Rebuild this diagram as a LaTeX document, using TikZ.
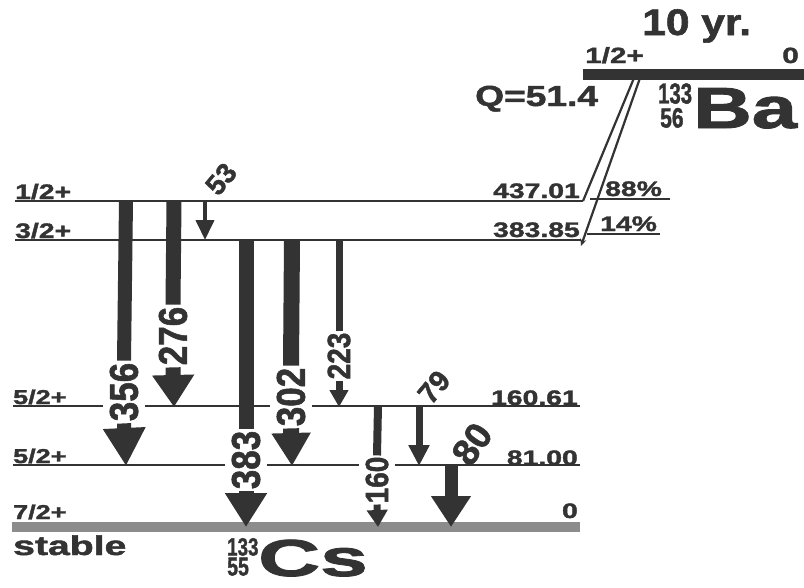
\documentclass[tikz,border=0pt]{standalone}
\usepackage{fontspec}
\setmainfont{Liberation Sans}
\newfontfamily\hv{Liberation Sans Bold}[FakeBold=1.5]
\usetikzlibrary{arrows.meta}
\definecolor{ink}{HTML}{333333}
\definecolor{band}{HTML}{8C8C8C}
\newcommand{\fs}[1]{\fontsize{#1}{#1}\selectfont\hv}
\newcommand{\hs}[3][1.35]{\scalebox{#1}[1]{\fs{#2}#3}}
\newcommand{\vs}[3][1.15]{\scalebox{1}[#1]{\fs{#2}#3}}
\tikzset{
  txt/.style={inner sep=0pt, text=ink},
  lvl/.style={draw=ink, line width=2.4pt},
  thinlvl/.style={draw=ink, line width=2pt},
  glab/.style={text=ink, fill=white, inner xsep=2pt, inner ysep=7pt, rotate=90},
  dlab/.style={text=ink, inner sep=0pt},
  shaft/.style={draw=ink, line width=#1},
  head/.style n args={3}{draw=ink, line width=#1, -{Triangle[width=#2, length=#3]}},
  feed/.style={draw=ink, line width=2.2pt},
}
\begin{document}
\begin{tikzpicture}[x=1pt,y=-1pt]
\useasboundingbox (0,0) rectangle (804,587);
% ---------- Ba parent ----------
\node[txt, anchor=base west] (halflife) at (642,35) {\hs[1.15]{37}{10 yr.}};
\node[txt, anchor=base west] (baspin) at (585,63) {\hs{22}{1/2+}};
\node[txt, anchor=base east] (baen) at (799,63) {\hs{22}{0}};
\coordinate (bal) at (583,74);
\coordinate (bar) at (804,74);
\draw[draw=ink, line width=11pt] (bal) -- (bar);
\node[txt, anchor=base west] (qval) at (475,106) {\hs[1.28]{29}{Q=51.4}};
\node[txt, anchor=south west] (baA) at (658,104) {\hs[0.7]{29}{133}};
\node[txt, anchor=south west] (baZ) at (660,128) {\hs[0.75]{28}{56}};
\node[txt, anchor=base west] (basym) at (693,128) {\hs[1.4]{58}{Ba}};
% feeding lines
\coordinate (ba1) at (634,78);
\coordinate (ba2) at (640,78);
\coordinate (e437) at (583,201);
\coordinate (e383) at (581,246);
\draw[feed] (ba1) -- (e437);
\draw[feed, -{Stealth[length=7pt, width=6pt]}] (ba2) -- (e383);
\coordinate (u88a) at (590,199); \coordinate (u88b) at (670,199);
\coordinate (u14a) at (587,234); \coordinate (u14b) at (660,234);
\draw[thinlvl] (u88a) -- (u88b);
\draw[thinlvl] (u14a) -- (u14b);
\node[txt, anchor=base west] (p88) at (605,196) {\hs{21}{88\%}};
\node[txt, anchor=base west] (p14) at (600,231) {\hs{21}{14\%}};
% ---------- levels ----------
\coordinate (L1a) at (15,201); \coordinate (L1b) at (583,201);
\coordinate (L2a) at (15,240); \coordinate (L2b) at (581,240);
\draw[lvl] (L1a) -- (L1b);
\draw[lvl] (L2a) -- (L2b);
\coordinate (L3a) at (13,406); \coordinate (L3b) at (580,406);
\coordinate (L4a) at (13,465); \coordinate (L4b) at (580,465);
\draw[thinlvl] (L3a) -- (L3b);
\draw[thinlvl] (L4a) -- (L4b);
\coordinate (L5a) at (12,527); \coordinate (L5b) at (580,527);
\draw[draw=band, line width=10pt] (L5a) -- (L5b);
% spins
\node[txt, anchor=base west] (s1) at (15,199) {\hs{21}{1/2+}};
\node[txt, anchor=base west] (s2) at (15,238) {\hs{21}{3/2+}};
\node[txt, anchor=base west] (s3) at (13,404) {\hs{20}{5/2+}};
\node[txt, anchor=base west] (s4) at (13,463) {\hs{20}{5/2+}};
\node[txt, anchor=base west] (s5) at (13,519) {\hs{20}{7/2+}};
% energies
\node[txt, anchor=base east] (en1) at (580,198) {\hs{21}{437.01}};
\node[txt, anchor=base east] (en2) at (580,237) {\hs{21}{383.85}};
\node[txt, anchor=base east] (en3) at (578,405) {\hs{21}{160.61}};
\node[txt, anchor=base east] (en4) at (578,465) {\hs{21}{81.00}};
\node[txt, anchor=base east] (en5) at (578,518) {\hs{21}{0}};
% bottom labels
\node[txt, anchor=base west] (stable) at (13,555) {\hs[1.45]{27}{stable}};
\node[txt, anchor=south west] (csA) at (227,556) {\hs[0.75]{25}{133}};
\node[txt, anchor=south west] (csZ) at (227,576) {\hs[0.75]{26}{55}};
\node[txt, anchor=base west] (cssym) at (258,576) {\hs[1.65]{52}{Cs}};
% ---------- gamma transitions ----------
% 356
\coordinate (t356) at (126,201); \coordinate (b356) at (126,466);
\node[glab] (l356) at (124,392) {\vs{35}{356}};
\draw[shaft=14pt] (t356) -- (l356.east);
\draw[head={14pt}{40pt}{38pt}] (l356.west) -- (b356);
% 276
\coordinate (t276) at (174,201); \coordinate (b276) at (174,407);
\node[glab] (l276) at (173,336) {\vs{35}{276}};
\draw[shaft=15pt] (t276) -- (l276.east);
\draw[head={15pt}{40pt}{32pt}] (l276.west) -- (b276);
% 53
\coordinate (t53) at (205,201); \coordinate (b53) at (205,240);
\draw[head={4pt}{18pt}{20pt}] (t53) -- (b53);
\node[dlab, rotate=50] (l53) at (221,179) {\fs{28}53};
% 383
\coordinate (t383) at (246,240); \coordinate (b383) at (246,527);
\node[glab] (l383) at (246,460) {\vs{35}{383}};
\draw[shaft=15pt] (t383) -- (l383.east);
\draw[head={15pt}{40pt}{34pt}] (l383.west) -- (b383);
% 302
\coordinate (t302) at (292,240); \coordinate (b302) at (292,466);
\node[glab] (l302) at (291,397) {\vs{35}{302}};
\draw[shaft=16pt] (t302) -- (l302.east);
\draw[head={16pt}{37pt}{33pt}] (l302.west) -- (b302);
% 223
\coordinate (t223) at (339,240); \coordinate (b223) at (339,407);
\node[glab, inner xsep=1pt] (l223) at (339,356) {\vs{28}{223}};
\draw[shaft=7pt] (t223) -- (l223.east);
\draw[head={7pt}{18pt}{17pt}] (l223.west) -- (b223);
% 160
\coordinate (t160) at (378,406); \coordinate (b160) at (378,527);
\node[glab, inner xsep=1pt] (l160) at (377,480) {\vs{28}{160}};
\draw[shaft=8pt] (t160) -- (l160.east);
\draw[head={7pt}{20pt}{17pt}] (l160.west) -- (b160);
% 79
\coordinate (t79) at (419,406); \coordinate (b79) at (419,466);
\draw[head={7pt}{20pt}{21pt}] (t79) -- (b79);
\node[dlab, rotate=50] (l79) at (434,387) {\fs{29}79};
% 80
\coordinate (t80) at (451,466); \coordinate (b80) at (451,527);
\draw[head={13pt}{38pt}{31pt}] (t80) -- (b80);
\node[dlab, rotate=55] (l80) at (472,444) {\fs{37}80};
\end{tikzpicture}
\end{document}
